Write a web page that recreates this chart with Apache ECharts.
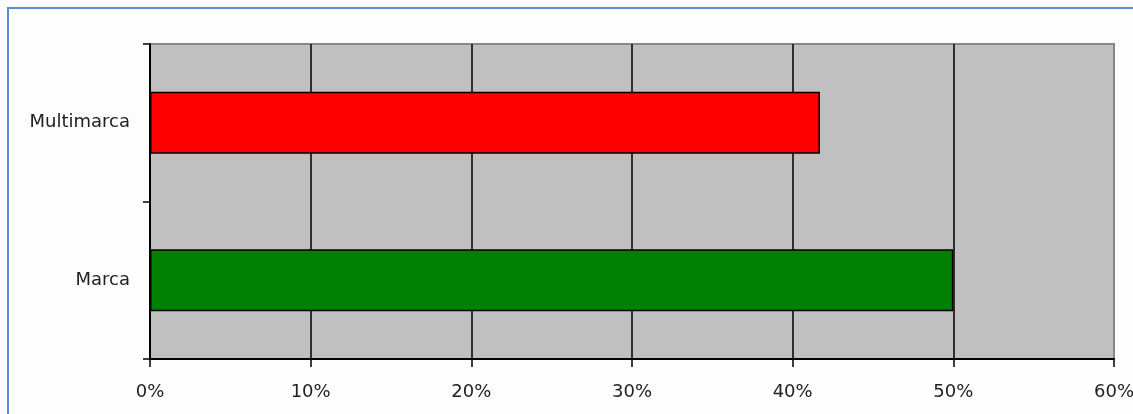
<!DOCTYPE html>
<html>
<head>
<meta charset="utf-8">
<script src="https://cdn.jsdelivr.net/npm/echarts@6/dist/echarts.min.js"></script>
<style>
html,body{margin:0;padding:0;background:#fff;}
#chart{width:1133px;height:414px;}
</style>
</head>
<body>
<div id="chart"></div>
<script>
const categories = ['Marca', 'Multimarca'];
const values = [0.50, 0.417];
const barColors = ['#008000', '#FF0000'];
const xTicks = [0, 0.1, 0.2, 0.3, 0.4, 0.5, 0.6];

const chart = echarts.init(document.getElementById('chart'));
chart.setOption({
  animation: false,
  backgroundColor: '#fdfdfd',
  graphic: [{
    type: 'rect',
    shape: { x: 8, y: 8, width: 1300, height: 600 },
    style: { fill: 'none', stroke: '#5b8bd0', lineWidth: 2 },
    silent: true
  }],
  grid: {
    left: 150, right: 19, top: 44, bottom: 55,
    outerBoundsMode: 'none',
    containLabel: false,
    show: true,
    backgroundColor: '#C0C0C0',
    borderColor: '#878787',
    borderWidth: 2
  },
  xAxis: {
    type: 'value',
    min: xTicks[0],
    max: xTicks[xTicks.length - 1],
    interval: 0.1,
    axisLine: { show: true, lineStyle: { color: '#000', width: 2 } },
    axisTick: { show: true, length: 8, lineStyle: { color: '#000', width: 1.5 } },
    splitLine: { show: true, showMinLine: false, showMaxLine: false, lineStyle: { color: '#000', width: 1.5 } },
    axisLabel: {
      margin: 24,
      color: '#222',
      fontFamily: 'DejaVu Sans',
      fontSize: 18,
      formatter: v => Math.round(v * 100) + '%'
    }
  },
  yAxis: {
    type: 'category',
    data: categories,
    axisLine: { show: true, lineStyle: { color: '#000', width: 2 } },
    axisTick: { show: true, length: 7, lineStyle: { color: '#000', width: 1.5 } },
    axisLabel: {
      margin: 20,
      color: '#222',
      fontFamily: 'DejaVu Sans',
      fontSize: 18
    }
  },
  series: [{
    type: 'bar',
    barWidth: 62,
    data: values.map((v, i) => ({ value: v, itemStyle: { color: barColors[i] } })),
    itemStyle: { borderColor: '#000', borderWidth: 1.5 }
  }]
});
</script>
</body>
</html>
